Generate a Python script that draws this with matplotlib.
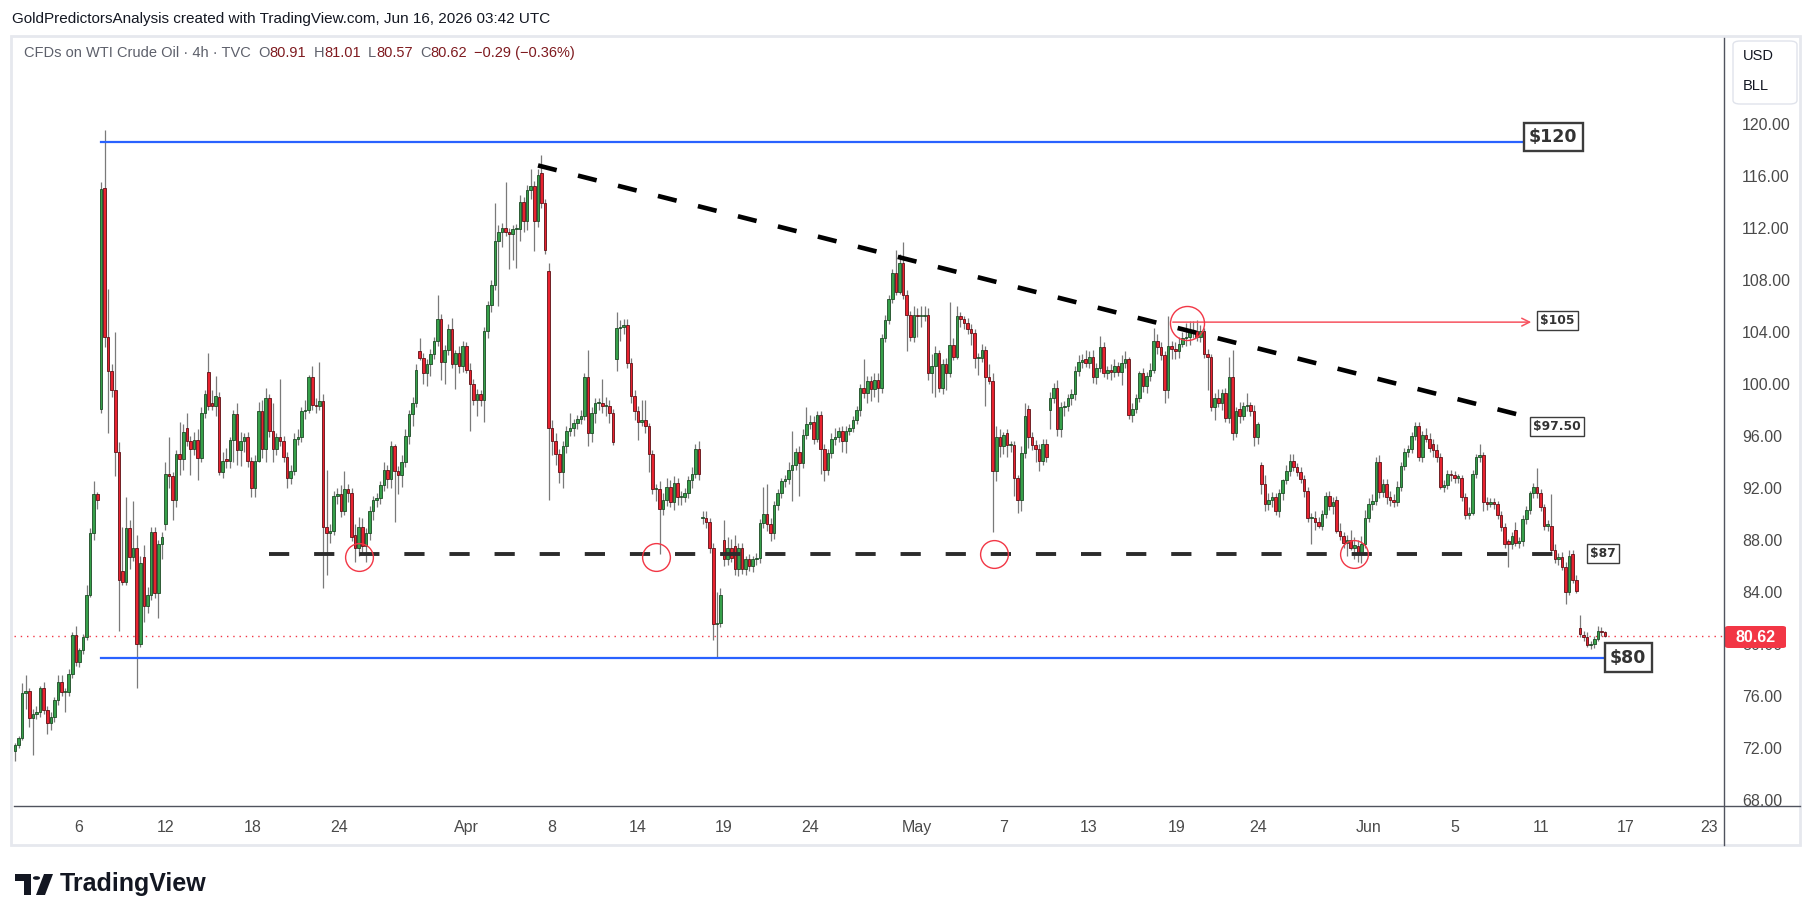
import matplotlib
matplotlib.use("Agg")
import matplotlib.pyplot as plt
import matplotlib.text as mtext
import numpy as np
from matplotlib.lines import Line2D
from matplotlib.patches import Rectangle, FancyBboxPatch, Polygon, Circle

plt.rcParams['font.family'] = ['Liberation Sans', 'DejaVu Sans']

# 4h bars as (open, high, low, close)
bars_mar = [
    (71.8, 72.4, 71.0, 72.2), (72.2, 72.9, 72.0, 72.8), (72.8, 77.0, 72.6, 76.2), (76.2, 77.6, 75.0, 76.4),
    (76.4, 76.6, 73.6, 74.3), (74.3, 75.0, 71.5, 74.6), (74.6, 75.2, 74.2, 74.8), (74.8, 76.8, 74.4, 76.6),
    (76.6, 77.1, 74.6, 74.9), (74.9, 75.2, 73.1, 73.9), (73.9, 74.8, 73.4, 74.4), (74.4, 75.9, 74.0, 75.7),
    (75.7, 77.6, 75.3, 77.1), (77.1, 77.6, 76.0, 76.3), (76.3, 76.6, 74.8, 76.3), (76.3, 78.1, 76.0, 77.7),
    (77.7, 80.9, 77.4, 80.7), (80.7, 81.4, 78.3, 78.6), (78.6, 79.7, 78.2, 79.5), (79.5, 80.8, 79.2, 80.5),
    (80.5, 84.5, 80.3, 83.8), (83.8, 88.9, 83.6, 88.5), (88.5, 92.5, 88.0, 91.5), (91.5, 91.7, 90.4, 91.1),
    (98.1, 115.5, 97.8, 115.0), (115.1, 119.5, 102.8, 103.6), (103.6, 107.3, 96.2, 101.0), (101.0, 101.5, 99.0, 99.5),
    (99.5, 104.0, 92.9, 94.8), (94.8, 95.5, 81.0, 84.9), (85.6, 89.0, 84.5, 84.8), (84.8, 91.3, 84.5, 88.9),
    (88.9, 89.5, 85.8, 86.7), (86.7, 91.0, 86.4, 87.4), (87.4, 88.4, 76.6, 80.0), (80.0, 86.8, 79.8, 86.2),
    (86.7, 87.6, 81.7, 82.9), (82.9, 84.4, 82.4, 83.8), (83.8, 89.0, 83.4, 88.6), (88.6, 89.0, 83.5, 83.9),
    (83.9, 88.0, 82.0, 87.7), (87.7, 88.6, 86.5, 88.2), (89.2, 94.0, 88.8, 93.1), (93.1, 95.9, 92.0, 92.9),
    (92.9, 93.2, 89.5, 91.1), (91.1, 94.9, 90.5, 94.6), (94.6, 97.1, 93.0, 94.2), (94.2, 96.9, 93.4, 96.3),
    (96.6, 97.8, 95.2, 95.6), (95.6, 96.0, 93.0, 95.0), (95.0, 96.3, 94.5, 95.7), (95.7, 96.5, 92.6, 94.3),
    (94.3, 98.2, 94.0, 97.8),
]
bars_apr = [
    (97.8, 99.5, 97.4, 99.2), (100.9, 102.4, 98.0, 98.3), (98.5, 99.5, 98.0, 98.3), (98.3, 100.6, 97.5, 99.1),
    (99.0, 99.4, 93.0, 93.2), (93.2, 94.8, 92.8, 94.1), (94.2, 95.1, 93.5, 94.1), (94.1, 95.9, 93.5, 95.7),
    (95.7, 98.0, 94.0, 97.7), (97.7, 98.5, 93.8, 94.9), (94.9, 96.3, 93.7, 95.6), (95.6, 96.2, 94.8, 95.9),
    (95.9, 96.3, 93.6, 94.1), (94.1, 94.4, 91.3, 92.0), (92.0, 94.5, 91.3, 94.1), (94.1, 98.6, 94.0, 97.9),
    (97.9, 98.8, 94.3, 95.0), (95.0, 99.7, 94.0, 98.9), (98.9, 99.2, 95.9, 96.4), (96.4, 98.5, 94.0, 95.0),
    (95.0, 96.2, 94.5, 95.9), (95.9, 100.4, 95.2, 95.6), (95.6, 96.0, 94.0, 94.4), (94.4, 94.8, 92.0, 92.8),
    (92.8, 93.8, 92.3, 93.3), (93.3, 96.2, 93.0, 95.8), (95.8, 96.5, 95.3, 95.9), (95.9, 98.2, 95.5, 97.9),
    (97.9, 98.8, 97.3, 98.0), (98.0, 100.7, 97.8, 100.5), (100.5, 101.4, 98.0, 98.4), (98.4, 98.9, 97.8, 98.3),
    (98.3, 101.7, 98.0, 98.7), (98.7, 99.2, 84.3, 89.0), (89.0, 93.4, 85.3, 88.5), (88.5, 89.2, 87.8, 88.7),
    (88.7, 91.8, 88.4, 91.35), (91.35, 92.0, 90.8, 91.5), (91.5, 92.2, 89.8, 90.2), (90.2, 93.3, 89.9, 91.9),
    (91.9, 92.3, 90.9, 91.6), (91.6, 92.0, 87.9, 88.2), (88.4, 89.2, 86.3, 87.4), (87.4, 89.8, 86.8, 89.0),
    (89.0, 89.7, 86.9, 87.5), (87.5, 88.9, 86.3, 88.5), (88.5, 90.6, 88.0, 90.2), (90.2, 91.4, 89.5, 91.1),
    (91.1, 91.6, 90.5, 91.2), (91.2, 92.5, 90.8, 92.2), (92.2, 94.0, 91.8, 93.4), (93.4, 93.8, 92.0, 92.7),
    (92.7, 95.6, 92.0, 95.2), (95.2, 95.4, 89.4, 93.3), (93.3, 93.7, 91.5, 93.0), (93.0, 94.5, 92.1, 94.0),
    (94.0, 96.5, 93.6, 96.0), (96.0, 98.0, 95.4, 97.7), (97.7, 99.0, 96.8, 98.5), (98.5, 101.5, 98.2, 101.1),
    (102.5, 103.5, 101.8, 102.0), (102.0, 102.4, 100.0, 100.8), (100.8, 101.9, 99.8, 101.5), (101.5, 102.7, 100.6, 102.3),
    (102.3, 103.6, 101.9, 103.3), (103.3, 106.8, 102.9, 105.0), (105.0, 105.4, 100.3, 101.7), (101.7, 103.0, 100.0, 102.6),
    (102.6, 104.6, 102.2, 104.2), (104.2, 105.1, 101.2, 101.5), (101.5, 102.6, 99.6, 102.4), (102.4, 102.9, 100.8, 101.4),
    (101.4, 103.3, 100.9, 102.9), (102.9, 103.2, 100.8, 101.1), (101.1, 101.6, 96.4, 100.0), (100.0, 100.4, 98.4, 98.8),
    (98.8, 99.6, 97.5, 99.2), (99.2, 99.5, 98.3, 98.8), (98.8, 104.4, 97.1, 104.1), (104.1, 106.4, 103.5, 106.1),
    (106.1, 108.0, 105.5, 107.6), (107.6, 113.9, 107.2, 111.0), (111.0, 112.2, 106.0, 111.7), (111.7, 112.4, 110.5, 112.0),
    (112.0, 115.5, 111.4, 111.7), (111.7, 112.0, 108.8, 111.5), (111.5, 112.2, 109.5, 111.9), (111.9, 112.3, 108.9, 111.9),
    (111.9, 114.5, 111.0, 114.0), (114.0, 114.4, 111.7, 112.5), (112.5, 115.3, 111.8, 114.9), (114.9, 116.5, 114.2, 115.2),
    (115.2, 115.6, 110.2, 112.5), (112.5, 116.5, 112.1, 116.1), (116.2, 117.6, 113.5, 113.9), (113.9, 114.2, 110.0, 110.3),
    (108.7, 109.3, 91.1, 96.6), (96.6, 97.2, 94.5, 95.6), (95.6, 96.2, 93.8, 94.6), (94.6, 95.0, 92.4, 93.2),
    (93.2, 95.6, 92.0, 95.2), (95.2, 96.8, 94.7, 96.4), (96.4, 97.8, 96.0, 96.6),
]
bars_may = [
    (96.6, 97.3, 96.0, 97.0), (97.0, 97.6, 96.5, 97.3), (97.3, 98.0, 96.9, 97.5), (97.5, 100.8, 97.2, 100.5),
    (100.5, 102.6, 95.2, 96.2), (96.2, 98.2, 95.5, 97.8), (97.8, 98.9, 97.0, 98.5), (98.5, 98.9, 98.0, 98.5),
    (98.5, 100.4, 97.8, 98.3), (98.3, 99.0, 97.5, 98.3), (98.3, 98.8, 97.0, 97.8), (97.8, 98.1, 95.3, 95.5),
    (101.9, 105.5, 101.0, 104.3), (104.3, 104.9, 103.3, 104.4), (104.4, 105.0, 103.8, 104.5), (104.5, 105.0, 101.2, 101.6),
    (101.6, 102.0, 98.5, 99.1), (99.1, 99.5, 97.2, 97.9), (97.9, 98.3, 95.7, 97.1), (97.1, 98.8, 96.8, 97.2),
    (97.2, 98.8, 96.2, 96.8), (96.8, 97.0, 93.2, 94.6), (94.6, 94.9, 91.5, 91.9), (91.9, 92.3, 91.0, 91.9),
    (91.9, 92.5, 86.9, 90.4), (90.4, 91.6, 89.9, 91.1), (91.1, 92.8, 90.6, 92.1), (92.1, 92.6, 90.5, 90.9),
    (90.9, 92.9, 90.3, 92.4), (92.4, 92.8, 90.7, 91.3), (91.3, 91.8, 90.7, 91.3), (91.3, 92.0, 90.9, 91.6),
    (91.6, 92.9, 91.2, 92.6), (92.6, 93.6, 92.0, 93.1), (93.1, 95.4, 92.8, 95.0), (95.0, 95.6, 92.6, 93.1),
    (89.7, 90.2, 89.2, 89.7), (89.7, 90.2, 88.9, 89.4), (89.4, 89.7, 87.0, 87.4), (87.4, 87.8, 80.3, 81.5),
    (81.5, 84.0, 78.9, 81.6), (81.6, 84.3, 81.3, 83.8), (88.0, 89.5, 86.0, 86.5), (86.5, 88.2, 86.1, 87.4),
    (87.4, 88.1, 86.3, 86.6), (87.5, 88.4, 85.3, 85.8), (85.8, 87.8, 85.2, 87.4), (87.4, 87.8, 85.4, 85.8),
    (85.8, 86.8, 85.3, 86.5), (86.5, 86.9, 85.6, 86.0), (86.0, 86.8, 85.5, 86.5), (86.5, 87.0, 86.1, 86.6),
    (86.6, 89.6, 86.2, 89.3), (89.3, 92.1, 88.9, 90.0), (90.0, 92.3, 88.7, 89.2), (89.2, 89.7, 87.9, 88.5),
    (88.5, 91.0, 88.1, 90.7), (90.7, 91.9, 90.3, 91.6), (91.6, 92.8, 91.2, 92.5), (92.5, 93.0, 92.1, 92.7),
    (92.7, 94.0, 92.3, 93.4), (93.4, 96.4, 91.0, 93.8), (93.8, 95.1, 93.4, 94.8), (94.8, 95.2, 91.4, 93.9),
    (93.9, 96.5, 93.5, 96.1), (96.1, 98.2, 95.8, 96.9), (96.9, 97.6, 96.5, 97.1), (97.1, 97.5, 95.4, 95.8),
    (95.8, 97.9, 95.5, 97.6), (97.6, 97.9, 93.1, 95.0), (95.0, 95.4, 92.5, 93.4), (93.4, 95.0, 93.0, 94.7),
    (94.7, 96.2, 94.3, 95.8), (95.8, 96.6, 95.3, 95.9), (95.9, 96.7, 95.5, 96.4), (96.4, 96.8, 94.8, 95.6),
    (95.6, 96.8, 94.7, 96.4), (96.4, 96.9, 96.1, 96.6), (96.6, 97.5, 96.3, 97.2), (97.2, 98.3, 96.9, 98.0),
    (98.0, 100.0, 97.5, 99.7), (99.7, 101.9, 98.9, 99.3), (99.3, 100.6, 98.5, 100.2), (100.2, 100.6, 98.7, 99.6),
    (99.6, 100.8, 99.0, 100.3), (100.3, 100.8, 98.6, 99.7), (99.7, 103.8, 99.3, 103.5), (103.5, 105.3, 103.2, 104.9),
    (104.9, 106.8, 104.6, 106.5), (106.5, 108.8, 106.2, 108.5), (108.5, 110.3, 106.8, 107.1), (107.1, 110.0, 106.9, 109.3),
    (109.3, 110.9, 106.5, 106.8), (106.8, 107.2, 102.5, 105.3), (105.3, 105.6, 103.3, 103.6), (103.6, 106.0, 103.2, 105.3),
    (105.3, 105.8, 103.6, 105.2), (105.2, 106.0, 104.4, 105.2), (105.2, 106.0, 104.8, 105.3), (105.3, 105.8, 100.3, 100.8),
    (100.8, 102.3, 99.3, 101.4), (101.4, 102.9, 99.0, 102.4), (102.4, 102.6, 99.4, 99.7), (99.7, 101.9, 99.2, 101.5),
    (101.5, 102.0, 99.5, 100.8), (100.8, 106.3, 100.5, 103.0), (103.0, 103.5, 101.8, 102.1), (102.1, 106.0, 101.9, 105.2),
    (105.2, 105.5, 104.4, 105.0), (105.0, 105.2, 104.2, 104.7), (104.7, 105.1, 103.8, 104.2), (104.2, 104.6, 103.0, 103.9),
    (103.9, 104.2, 101.2, 102.0), (102.0, 102.4, 100.7, 102.0), (102.0, 103.1, 101.7, 102.6), (102.6, 102.9, 98.3, 100.5),
    (100.5, 101.5, 100.0, 100.2), (100.2, 100.8, 88.6, 93.3), (93.3, 96.8, 92.5, 95.9), (95.9, 96.5, 94.4, 95.2),
    (95.2, 96.3, 94.6, 96.1), (96.2, 96.5, 94.4, 95.3), (95.3, 95.6, 94.8, 95.3), (95.3, 95.6, 91.4, 92.8),
    (92.8, 93.0, 90.1, 91.1), (91.1, 95.2, 90.2, 94.7), (94.7, 98.5, 94.3, 97.5), (98.1, 98.4, 95.1, 95.9),
    (95.9, 96.3, 94.9, 95.3), (95.3, 95.7, 94.0, 95.0), (95.0, 95.4, 93.3, 94.1), (94.1, 95.8, 93.8, 95.4),
    (95.4, 95.8, 94.0, 94.4), (98.0, 99.4, 96.5, 98.95), (98.95, 100.1, 98.5, 99.7), (99.7, 100.3, 96.0, 96.5),
    (96.5, 98.6, 95.9, 98.2), (98.2, 98.7, 97.5, 98.3), (98.3, 99.2, 97.9, 98.9), (98.9, 99.6, 98.4, 99.2),
    (99.2, 101.4, 98.8, 101.0), (101.0, 102.2, 100.6, 101.7), (101.7, 102.3, 101.2, 101.8), (101.9, 102.6, 101.3, 101.6),
    (101.6, 102.5, 101.2, 102.1), (102.1, 102.6, 100.1, 100.5), (100.5, 101.6, 100.0, 101.2), (101.2, 103.7, 100.9, 102.8),
    (102.8, 103.2, 100.5, 100.8), (100.8, 101.4, 100.4, 101.1), (101.1, 101.5, 100.3, 100.9), (100.9, 101.9, 100.5, 101.4),
    (101.4, 101.7, 100.6, 100.9),
]
bars_jun = [
    (100.9, 102.2, 99.9, 101.6), (101.6, 102.5, 101.2, 101.9), (101.9, 102.1, 97.3, 97.6), (97.6, 98.5, 97.1, 98.1),
    (98.1, 99.2, 97.8, 98.9), (98.9, 101.0, 98.6, 100.8), (100.8, 101.2, 99.4, 99.8), (99.8, 100.9, 99.3, 100.6),
    (100.6, 101.6, 100.2, 101.1), (101.1, 104.3, 100.8, 103.3), (103.3, 103.8, 102.3, 102.8), (102.8, 103.2, 101.8, 102.2),
    (102.2, 102.5, 98.5, 99.5), (99.5, 105.2, 98.9, 102.9), (102.9, 103.3, 101.9, 102.7), (102.7, 103.2, 101.9, 102.5),
    (102.5, 103.6, 102.0, 103.1), (103.1, 104.0, 102.8, 103.5), (103.5, 104.7, 102.9, 103.6), (103.6, 104.8, 103.0, 104.0),
    (104.0, 104.8, 103.5, 104.1), (104.1, 104.9, 103.3, 103.6), (103.6, 104.5, 103.2, 104.1), (104.1, 104.3, 102.0, 102.3),
    (102.3, 102.7, 99.5, 102.1), (102.1, 102.3, 97.9, 98.2), (98.2, 99.3, 97.2, 98.95), (98.95, 99.6, 98.2, 98.5),
    (98.5, 99.6, 98.0, 99.3), (99.3, 99.7, 97.1, 97.4), (97.4, 102.1, 97.0, 100.5), (100.5, 102.6, 95.7, 96.2),
    (96.2, 98.2, 95.9, 97.9), (98.1, 98.6, 97.0, 97.5), (97.5, 98.6, 97.2, 98.3), (98.3, 99.3, 97.9, 98.4),
    (98.4, 98.6, 97.5, 97.9), (97.9, 98.4, 95.2, 95.9), (95.9, 97.1, 95.4, 96.9), (93.8, 94.0, 91.5, 92.3),
    (92.3, 93.0, 90.2, 90.8), (90.8, 91.6, 90.3, 91.1), (91.1, 91.7, 90.5, 91.3), (91.3, 91.6, 89.9, 90.2),
    (90.2, 91.9, 89.8, 91.6), (91.6, 92.7, 91.1, 92.6), (92.6, 93.8, 92.3, 93.3), (93.3, 94.6, 92.9, 94.1),
    (94.1, 94.6, 93.3, 93.6), (93.6, 93.9, 92.9, 93.2), (93.2, 93.6, 92.4, 92.7), (92.7, 93.0, 91.3, 91.8),
    (91.8, 92.1, 89.4, 89.7), (89.7, 90.1, 87.7, 89.7), (89.7, 90.2, 88.8, 89.35), (89.35, 89.8, 88.9, 89.1),
    (89.1, 90.3, 88.8, 90.0), (90.0, 91.7, 89.7, 91.4), (91.4, 91.8, 90.3, 90.6), (90.6, 91.3, 90.0, 90.9),
    (91.1, 91.4, 88.5, 88.7), (88.7, 89.3, 88.0, 88.3), (88.3, 88.6, 87.4, 87.8), (87.8, 88.4, 86.8, 88.0),
    (88.0, 88.8, 87.2, 87.4), (87.4, 88.2, 86.5, 87.6), (87.5, 88.0, 86.3, 87.0), (87.0, 88.3, 86.2, 87.7),
    (87.7, 90.3, 87.4, 89.7), (89.7, 91.2, 89.4, 90.8), (90.8, 91.5, 90.3, 91.0), (91.0, 94.4, 90.7, 94.0),
    (94.0, 94.5, 91.2, 91.7), (91.7, 92.7, 91.3, 92.3), (92.3, 92.7, 90.8, 91.3), (91.3, 91.8, 90.6, 91.1),
    (91.1, 91.5, 90.5, 90.9), (90.9, 92.5, 90.6, 92.1), (92.1, 94.0, 91.8, 93.7), (93.7, 95.1, 93.4, 94.8),
    (94.8, 95.3, 94.4, 95.0), (95.0, 96.3, 94.7, 96.0), (96.0, 97.1, 95.7, 96.8), (96.8, 97.1, 94.1, 94.4),
    (94.4, 96.4, 94.0, 96.1), (96.1, 96.6, 95.5, 95.8), (95.8, 96.2, 94.8, 95.1), (95.4, 95.8, 94.4, 94.9),
    (94.9, 95.4, 94.0, 94.4), (94.4, 94.7, 91.9, 92.1), (92.1, 92.6, 91.7, 92.2), (92.2, 93.4, 91.9, 93.1),
    (93.1, 93.4, 92.5, 93.0), (93.0, 93.3, 92.4, 92.8), (92.8, 93.1, 92.4, 92.8), (92.8, 93.0, 91.0, 91.3),
    (91.3, 91.6, 89.6, 89.9), (89.9, 90.5, 89.6, 90.1), (90.1, 93.4, 89.9, 93.1), (93.1, 94.6, 92.8, 94.4),
    (94.4, 95.4, 94.0, 94.5), (94.5, 94.8, 90.2, 90.9), (90.9, 91.3, 90.3, 90.8), (90.8, 91.2, 90.5, 90.9),
    (90.9, 91.2, 90.4, 90.8), (90.8, 91.0, 89.6, 89.9), (89.9, 90.2, 88.7, 89.0), (89.0, 89.3, 87.4, 87.7),
    (87.9, 88.1, 85.9, 87.7), (87.7, 88.6, 87.3, 88.3), (88.8, 89.4, 87.5, 87.8), (87.8, 88.2, 87.4, 87.9),
    (87.9, 89.9, 87.5, 89.6), (89.6, 90.6, 89.2, 90.3), (90.3, 91.8, 90.0, 91.6), (91.6, 92.4, 91.2, 92.1),
    (92.1, 93.5, 91.2, 91.6), (91.6, 91.9, 90.2, 90.5), (90.5, 90.8, 88.8, 89.1), (89.1, 89.5, 88.7, 89.1),
    (89.1, 91.5, 87.0, 87.2), (87.2, 87.7, 86.2, 86.5), (86.5, 87.0, 86.1, 86.7), (86.7, 87.1, 85.7, 85.9),
    (85.9, 86.3, 83.1, 84.0), (84.0, 87.2, 83.8, 86.8), (86.9, 87.2, 84.7, 84.9), (84.9, 85.3, 83.9, 84.1),
    (81.2, 82.2, 80.5, 80.75), (80.7, 81.0, 80.2, 80.5), (80.5, 80.9, 79.8, 79.9), (79.9, 80.2, 79.6, 80.0),
    (80.0, 80.6, 79.7, 80.4), (80.4, 81.4, 80.2, 81.0), (81.0, 81.3, 80.6, 80.91), (80.91, 81.01, 80.57, 80.62),
]

date_labels = ["6", "12", "18", "24", "Apr", "8", "14", "19", "24", "May",
               "7", "13", "19", "24", "Jun", "5", "11", "17", "23"]
date_px = [79, 166, 253, 339, 466, 552, 638, 724, 810, 917,
           1004, 1089, 1177, 1258, 1369, 1455, 1541, 1626, 1709]
price_ticks = list(range(68, 121, 4))

level_top = 118.6      # "$120" line
level_bottom = 78.9    # "$80" line
level_support = 86.9   # "$87" dashed line
level_target = 104.75  # "$105" arrow
trend_start, trend_end = 116.8, 97.45

W, H = 1814, 921
fig = plt.figure(figsize=(W / 100, H / 100), dpi=100)
fig.patch.set_facecolor("white")


def fx(px):
    return px / W


def fy(py):
    return 1 - py / H


ax = fig.add_axes([fx(14), fy(806), (1724 - 14) / W, (806 - 38) / H])
ax.set_facecolor("white")

bars = np.array(bars_mar + bars_apr + bars_may + bars_jun)
o, h, l, c = bars.T
n = len(o)
x = np.arange(n)
step = (1605 - 15) / (n - 1)


def xi(px):
    return (px - 15) / step


# candles
ax.vlines(x, l, h, color="#7a7a7a", lw=0.9, zorder=2)
lo = np.minimum(o, c)
hgt = np.maximum(np.abs(c - o), 0.09)
up = c >= o
ax.bar(x[up], hgt[up], bottom=lo[up], width=0.72, color="#36a04a",
       edgecolor="#1d4a25", linewidth=0.6, zorder=3)
ax.bar(x[~up], hgt[~up], bottom=lo[~up], width=0.72, color="#e8222f",
       edgecolor="#5e1015", linewidth=0.6, zorder=3)

ax.set_xlim(xi(14), xi(1724))
ax.set_ylim(67.54, 126.6)
for s in ax.spines.values():
    s.set_visible(False)

ax.set_yticks(price_ticks)
ax.set_yticklabels([f"{v:.2f}" for v in price_ticks])
ax.yaxis.tick_right()
ax.tick_params(axis="y", length=0, pad=13, labelsize=11.5, labelcolor="#4a4a4a")
ax.set_xticks([xi(p) for p in date_px])
ax.set_xticklabels(date_labels)
ax.tick_params(axis="x", length=0, pad=10, labelsize=11.5, labelcolor="#4a4a4a")

# level lines
ax.plot([xi(101), xi(1522)], [level_top] * 2, color="#2962ff", lw=1.6, zorder=4)
ax.plot([xi(101), xi(1603)], [level_bottom] * 2, color="#2962ff", lw=1.6, zorder=4)
ax.plot([xi(269), xi(1566)], [level_support] * 2, color="#2b2b2b", lw=2.8,
        dashes=(5.2, 6.4), dash_capstyle="butt", zorder=5)
ax.plot([xi(538), xi(1528)], [trend_start, trend_end], color="black", lw=3.3,
        dashes=(4.2, 4.8), dash_capstyle="butt", zorder=5)
ax.axhline(c[-1], color="#f23645", lw=1.0, ls=(0, (1, 3.5)), zorder=1)

ax.annotate("", xy=(xi(1534), level_target), xytext=(xi(1170), level_target),
            arrowprops=dict(arrowstyle="->", color="#f7525f", lw=1.1, mutation_scale=14),
            zorder=5)

# red circles
for px, py in [(359, 86.7), (656, 86.7), (994, 86.9), (1354, 86.9)]:
    ax.plot(xi(px), py, "o", ms=20, mfc="none", mec="#f23645", mew=1.0, zorder=6)
ax.plot(xi(1187), 104.7, "o", ms=24.5, mfc="none", mec="#f23645", mew=1.0, zorder=6)


# labelled boxes
def tag(px_left, price, text, fs, lw, pad):
    ax.text(xi(px_left), price, text, fontsize=fs, fontweight="bold",
            family="DejaVu Sans", color="#333333", ha="left", va="center", zorder=7,
            bbox=dict(boxstyle=f"square,pad={pad}", fc="white", ec="#3c3c3c", lw=lw))


tag(1529, 119.0, "$120", 12.5, 1.7, 0.3)
tag(1610, 78.95, "$80", 12.5, 1.7, 0.3)
tag(1540, 104.85, "$105", 8.8, 1.0, 0.25)
tag(1533, 96.7, "$97.50", 8.8, 1.0, 0.25)
tag(1590, 86.96, "$87", 8.8, 1.0, 0.25)

# frame lines
fig.add_artist(Rectangle((fx(11), fy(845)), (1800 - 11) / W, (845 - 36) / H,
                         fill=False, ec="#e6e8ee", lw=2.0))
fig.add_artist(Line2D([fx(14), fx(1800)], [fy(806), fy(806)], color="#50535e", lw=1.0))
fig.add_artist(Line2D([fx(1724), fx(1724)], [fy(38), fy(845)], color="#50535e", lw=1.0))

# last price tag
fig.add_artist(FancyBboxPatch((fx(1725), fy(648)), (1786 - 1725) / W, 22 / H,
                              boxstyle="round,pad=0,rounding_size=0.002",
                              fc="#f23645", ec="none"))
fig.text(fx(1756), fy(637), f"{c[-1]:.2f}", color="white", fontsize=11.5,
         fontweight="bold", ha="center", va="center")

# currency / unit box
fig.add_artist(FancyBboxPatch((fx(1733), fy(104)), (1797 - 1733) / W, (104 - 41) / H,
                              boxstyle="round,pad=0,rounding_size=0.004",
                              fc="white", ec="#e0e3eb", lw=1.0))
fig.text(fx(1743), fy(56), "USD", fontsize=10.5, color="#131722", va="center")
fig.text(fx(1743), fy(86), "BLL", fontsize=10.5, color="#131722", va="center")

# header and legend
fig.text(fx(12), fy(19), "GoldPredictorsAnalysis created with TradingView.com, Jun 16, 2026 03:42 UTC",
         fontsize=11, color="#131722", va="center")

chg = c[-1] - c[-2]
pct = chg / c[-2] * 100
grey, dred = "#5d606b", "#7f1a1f"
pieces = [("O", grey, 7), (f"{o[-1]:.2f}", dred, 0),
          ("H", grey, 7), (f"{h[-1]:.2f}", dred, 0), ("L", grey, 7), (f"{l[-1]:.2f}", dred, 0),
          ("C", grey, 7), (f"{c[-1]:.2f}", dred, 0),
          (f"\u2212{abs(chg):.2f} (\u2212{abs(pct):.2f}%)", dred, 7)]
prev = fig.text(fx(24), fy(53), "CFDs on WTI Crude Oil · 4h · TVC", fontsize=10.5,
                color=grey, va="center")
for txt, col, gap in pieces:
    prev = fig.add_artist(mtext.Annotation(
        txt, xy=(1, 0), xycoords=prev, xytext=(gap * 0.75, 0), textcoords="offset points",
        fontsize=10.5, color=col, va="bottom", ha="left"))

# TradingView logo
fig.add_artist(Polygon([(fx(15), fy(874)), (fx(31), fy(874)), (fx(31), fy(895)), (fx(24), fy(895)),
                        (fx(24), fy(881)), (fx(15), fy(881))], closed=True, fc="#131722", ec="none"))
fig.add_artist(Circle((fx(36.5), fy(878)), 3.6 / W, fc="#131722", ec="none",
                      transform=fig.transFigure))
fig.add_artist(Polygon([(fx(44), fy(874)), (fx(53), fy(874)), (fx(45), fy(895)), (fx(36), fy(895))],
                       closed=True, fc="#131722", ec="none"))
fig.text(fx(60), fy(884), "TradingView", fontsize=18, fontweight="bold", color="#131722", va="center")

fig.savefig("out.png", dpi=100, facecolor="white")
